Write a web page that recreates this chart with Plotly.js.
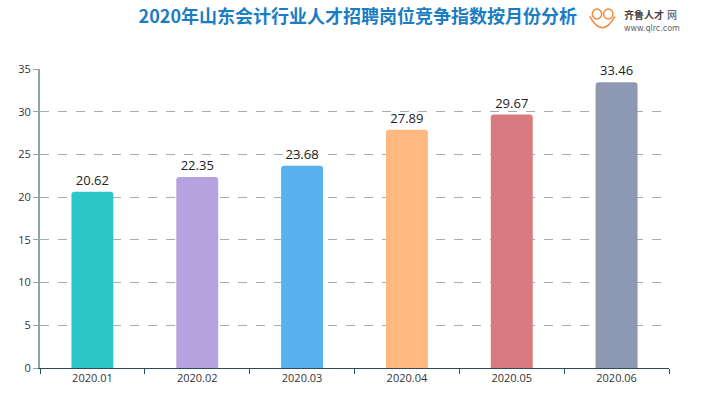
<!DOCTYPE html>
<html><head><meta charset="utf-8">
<script src="https://cdn.plot.ly/plotly-3.0.1.min.js"></script>
<style>html,body{margin:0;padding:0;background:#fff}#c{width:720px;height:405px}</style>
</head><body><div id="c"></div>
<script>
const months = ["2020.01","2020.02","2020.03","2020.04","2020.05","2020.06"];
const values = [20.62, 22.35, 23.68, 27.89, 29.67, 33.46];
const colors = ["#2ec7c9","#b6a2de","#5ab1ef","#ffb980","#d87a80","#8d98b3"];
const yTicks = [0,5,10,15,20,25,30,35];

const trace = {
  type: "bar", x: months, y: values,
  marker: {color: colors, cornerradius: 3},
  width: 0.4,
  text: values.map(v => v.toFixed(2)), textposition: "outside",
  textfont: {family: "Open Sans, sans-serif", size: 13, color: "#222"},
  cliponaxis: false, hoverinfo: "none"
};
const layout = {
  width: 720, height: 405,
  margin: {l: 40, r: 51, t: 69, b: 37},
  paper_bgcolor: "#fff", plot_bgcolor: "#fff",
  showlegend: false,
  title: {text: "2020年山东会计行业人才招聘岗位竞争指数按月份分析",
    font: {family: "Noto Sans CJK SC", size: 18, color: "#1b7dc2", weight: "bold"},
    x: 0.497, xanchor: "center", y: 0.96, yanchor: "middle"},
  xaxis: {type: "category", showgrid: false, showline: true, linecolor: "#2f4b57", linewidth: 1,
    ticks: "outside", ticklen: 5, tickcolor: "#2f4b57", tickson: "boundaries",
    tickfont: {family: "Open Sans, sans-serif", size: 11, color: "#333"}, fixedrange: true},
  yaxis: {range: [0, 35], tickvals: yTicks, showline: true, linecolor: "#8fa3ab", linewidth: 2,
    ticks: "outside", ticklen: 5, tickcolor: "#8fa3ab",
    showgrid: true, gridcolor: "#9eb0b4", griddash: "dash", gridwidth: 1, zeroline: false,
    tickfont: {family: "Open Sans, sans-serif", size: 11, color: "#333"}},
  annotations: [
    {xref: "paper", yref: "paper", x: 0.925, y: 1.181, xanchor: "left", yanchor: "middle",
     text: "<b>齐鲁人才</b>", showarrow: false,
     font: {family: "Noto Sans CJK SC", size: 10, color: "#444"}},
    {xref: "paper", yref: "paper", x: 0.994, y: 1.181, xanchor: "left", yanchor: "middle",
     text: "网", showarrow: false,
     font: {family: "Noto Sans CJK SC", size: 10, color: "#444"}},
    {xref: "paper", yref: "paper", x: 0.925, y: 1.137, xanchor: "left", yanchor: "middle",
     text: "www.qlrc.com", showarrow: false,
     font: {family: "DejaVu Sans", size: 8, color: "#666"}}
  ],
  shapes: [
    {type: "circle", xref: "paper", yref: "paper", x0: 0.878, x1: 0.893, y0: 1.167, y1: 1.201,
     line: {color: "#f08a3c", width: 1.5}},
    {type: "circle", xref: "paper", yref: "paper", x0: 0.896, x1: 0.911, y0: 1.167, y1: 1.201,
     line: {color: "#f08a3c", width: 1.5}},
    {type: "path", xref: "paper", yref: "paper",
     path: "M 0.874 1.176 Q 0.894 1.10 0.914 1.176", line: {color: "#f08a3c", width: 1.5}}
  ]
};
Plotly.newPlot("c", [trace], layout, {displayModeBar: false, staticPlot: true});
</script></body></html>
